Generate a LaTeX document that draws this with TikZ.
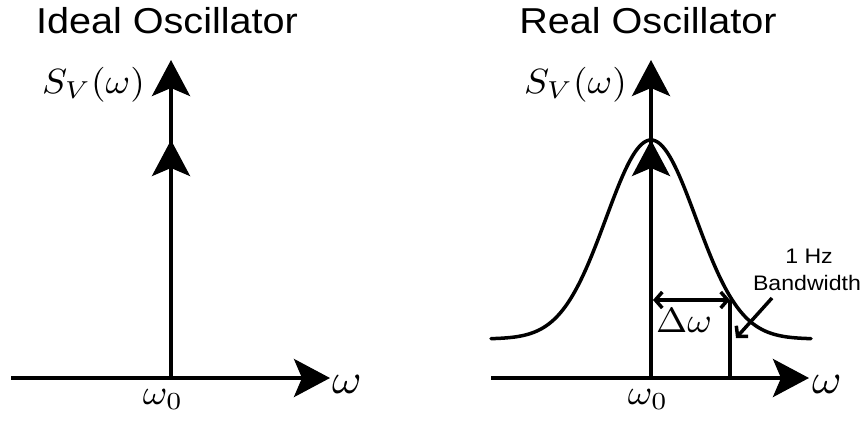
\documentclass[tikz,border=0pt]{standalone}
\usepackage{fontspec}
\setmainfont{Liberation Sans}
\usetikzlibrary{arrows.meta}
\newcommand{\hstretch}[1]{\scalebox{1.1}[1]{#1}}
\newcommand{\bigmath}[1]{\scalebox{3.74}[3.5]{$#1$}}
\newcommand{\omath}[1]{\scalebox{4.5}[4.2]{$#1$}}
\tikzset{
  bigtip/.tip={Stealth[length=36pt,width=38pt,inset=8pt]},
  smalltip/.tip={Straight Barb[length=7pt,width=16pt]},
  axis/.style={line width=4pt,-bigtip},
  curveline/.style={line width=3.5pt,line cap=round},
  thin/.style={line width=3.5pt},
  titletext/.style={font=\fontsize{36}{40}\selectfont,inner sep=0pt,anchor=base},
  mathtext/.style={inner sep=0pt},
  smalltext/.style={font=\fontsize{21}{25}\selectfont,inner sep=0pt,anchor=base},
}
\begin{document}
\begin{tikzpicture}[x=1pt,y=-1pt]
\useasboundingbox (0,0) rectangle (867,421);
% ---------- Left panel ----------
\node[titletext] (t1) at (167,33) {\hstretch{Ideal Oscillator}};
\coordinate (o1) at (171,378);
\coordinate (top1) at (171,60);
\coordinate (d1) at (171,140);
\coordinate (hl1) at (11,378);
\coordinate (hr1) at (330,378);
\draw[axis] (o1) -- (top1);
\draw[axis] (o1) -- (d1);
\draw[axis] (hl1) -- (hr1);
\node[mathtext,anchor=base east] (sv1) at (145,93) {\bigmath{S_V(\omega)}};
\node[mathtext,anchor=base west] (w1) at (332,393) {\omath{\omega}};
\node[mathtext,anchor=base] (w01) at (163,404) {\bigmath{\omega_0}};
% ---------- Right panel ----------
\node[titletext] (t2) at (648,33) {\hstretch{Real Oscillator}};
\coordinate (o2) at (651,378);
\coordinate (top2) at (651,60);
\coordinate (d2) at (651,140);
\coordinate (hl2) at (491,378);
\coordinate (hr2) at (809,378);
\draw[curveline] plot[domain=491:811,samples=161] (\x,{339-199*exp(-0.5*((\x-651)/45)^2)});
\draw[axis] (o2) -- (top2);
\draw[axis] (o2) -- (d2);
\draw[axis] (hl2) -- (hr2);
\coordinate (bwtop) at (730,300);
\coordinate (bwbot) at (730,378);
\coordinate (dwl) at (653,300);
\draw[thin] (bwtop) -- (bwbot);
\draw[thin,smalltip-smalltip] (dwl) -- (bwtop);
\node[mathtext,anchor=base east] (sv2) at (627,93) {\bigmath{S_V(\omega)}};
\node[mathtext,anchor=base west] (w2) at (812,393) {\omath{\omega}};
\node[mathtext,anchor=base] (w02) at (648,404) {\bigmath{\omega_0}};
\node[mathtext,anchor=base] (dw) at (684,332) {\bigmath{\Delta\omega}};
\node[smalltext] (hz) at (809,263) {\hstretch{1 Hz}};
\node[smalltext] (bw) at (807,290) {\hstretch{Bandwidth}};
\coordinate (pstart) at (772,298);
\coordinate (pend) at (736,338);
\draw[thin,-smalltip] (pstart) -- (pend);
\end{tikzpicture}
\end{document}
